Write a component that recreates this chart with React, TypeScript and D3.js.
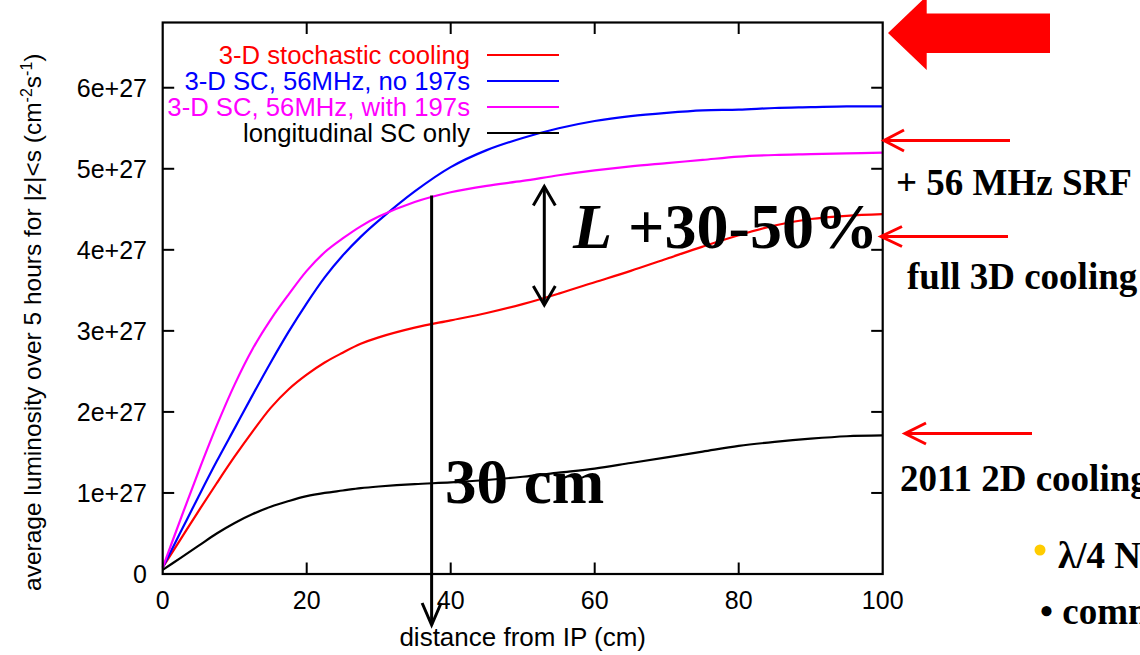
import React from 'react';
import * as d3 from 'd3';

// distance from IP (cm)
const distances = [0, 2.5, 5, 7.5, 10, 12.5, 15, 17.5, 20, 22.5, 25, 27.5, 30, 35, 40, 45, 50, 55, 60, 65, 70, 75, 80, 85, 90, 95, 100];
// average luminosity (units of 1e27 cm^-2 s^-1)
const stochastic3D = [0.08, 0.43, 0.78, 1.12, 1.45, 1.76, 2.05, 2.28, 2.46, 2.61, 2.73, 2.84, 2.92, 3.04, 3.13, 3.22, 3.33, 3.46, 3.6, 3.74, 3.89, 4.04, 4.18, 4.3, 4.38, 4.42, 4.44];
const sc56NoGold = [0.08, 0.52, 0.96, 1.39, 1.8, 2.21, 2.61, 2.99, 3.34, 3.66, 3.93, 4.16, 4.36, 4.72, 5.02, 5.23, 5.38, 5.5, 5.59, 5.65, 5.69, 5.72, 5.73, 5.75, 5.76, 5.77, 5.77];
const sc56WithGold = [0.08, 0.68, 1.27, 1.83, 2.34, 2.78, 3.14, 3.45, 3.74, 3.97, 4.14, 4.29, 4.41, 4.59, 4.71, 4.79, 4.85, 4.92, 4.98, 5.03, 5.07, 5.11, 5.15, 5.17, 5.18, 5.19, 5.2];
const longitudinalOnly = [0.05, 0.2, 0.35, 0.5, 0.63, 0.74, 0.83, 0.9, 0.96, 1.0, 1.03, 1.06, 1.08, 1.11, 1.13, 1.16, 1.2, 1.25, 1.3, 1.37, 1.44, 1.51, 1.58, 1.63, 1.67, 1.7, 1.71];

const seriesNames = ['3-D stochastic cooling', '3-D SC, 56MHz, no 197s', '3-D SC, 56MHz, with 197s', 'longitudinal SC only'];
const seriesValues = [stochastic3D, sc56NoGold, sc56WithGold, longitudinalOnly];
const seriesColors = ['#ff0000', '#0000ff', '#ff00ff', '#000000'];

const xTickValues = [0, 20, 40, 60, 80, 100];
const yTickValues = [0, 1, 2, 3, 4, 5, 6];
const yTickLabels = ['0', '1e+27', '2e+27', '3e+27', '4e+27', '5e+27', '6e+27'];

const SANS = '"Liberation Sans", Arial, Helvetica, sans-serif';
const SERIF = '"Liberation Serif", "Times New Roman", serif';

const W = 1140;
const H = 655;
const PL = 162.7, PR = 882.7, PT = 22.5, PB = 574;

function vHead(x: number, y: number, dir: number, len: number, half: number) {
  return `M${x - half},${y - dir * len}L${x},${y}L${x + half},${y - dir * len}`;
}
function hHeadLeft(x: number, y: number, len: number, half: number) {
  return `M${x + len},${y - half}L${x},${y}L${x + len},${y + half}`;
}

export default function App() {
  const x = d3.scaleLinear().domain([0, 100]).range([PL, PR]);
  const y = d3.scaleLinear().domain([0, 6.8]).range([PB, PT + 0.4]);
  const line = d3
    .line<number>()
    .x((_, i) => x(distances[i]))
    .y((d) => y(d))
    .curve(d3.curveCatmullRom.alpha(0.5));

  const legendRows = [55, 81, 107, 133];
  const tickLen = 11.5;

  const vx = x(37.35);
  const vTop = y(4.67);
  const vBot = 625;
  const dx = x(53);
  const dTop = y(4.78);
  const dBot = y(3.32);

  return (
    <svg width={W} height={H} style={{ position: 'absolute', left: 0, top: 0, display: 'block', background: '#fff' }}>
      <rect x={0} y={0} width={W} height={H} fill="#fff" />
      <g stroke="#000" strokeWidth={2}>
        {yTickValues.slice(1).map((v) => (
          <g key={'yt' + v}>
            <line x1={PL} x2={PL + tickLen} y1={y(v)} y2={y(v)} />
            <line x1={PR} x2={PR - tickLen} y1={y(v)} y2={y(v)} />
          </g>
        ))}
        {xTickValues.slice(1, -1).map((v) => (
          <g key={'xt' + v}>
            <line x1={x(v)} x2={x(v)} y1={PB} y2={PB - tickLen} />
            <line x1={x(v)} x2={x(v)} y1={PT} y2={PT + tickLen} />
          </g>
        ))}
      </g>
      <g fontFamily={SANS} fontSize={25} fill="#000">
        {yTickValues.map((v, i) => (
          <text key={'yl' + v} x={147} y={y(v)} dy="0.36em" textAnchor="end">
            {yTickLabels[i]}
          </text>
        ))}
        {xTickValues.map((v) => (
          <text key={'xl' + v} x={x(v)} y={609} textAnchor="middle">
            {v}
          </text>
        ))}
        <text x={(PL + PR) / 2} y={646} textAnchor="middle" fontSize={26}>distance from IP (cm)</text>
        <text transform={`translate(41,591) rotate(-90)`} textAnchor="start" fontSize={24.5}>
          average luminosity over 5 hours for |z|&lt;s (cm
          <tspan fontSize={16} dy={-9}>-2</tspan>
          <tspan dy={9}>s</tspan>
          <tspan fontSize={16} dy={-9}>-1</tspan>
          <tspan dy={9}>)</tspan>
        </text>
      </g>
      {seriesValues.map((vals, i) => (
        <path key={'s' + i} d={line(vals) || ''} fill="none" stroke={seriesColors[i]} strokeWidth={2.2} />
      ))}
      <g fontFamily={SANS} fontSize={25.7}>
        {seriesNames.map((name, i) => (
          <g key={'lg' + i}>
            <text x={470} y={legendRows[i]} dy="0.36em" textAnchor="end" fill={seriesColors[i]}>
              {name}
            </text>
            <line x1={487} x2={559} y1={legendRows[i]} y2={legendRows[i]} stroke={seriesColors[i]} strokeWidth={2.2} />
          </g>
        ))}
      </g>
      <rect x={PL} y={PT} width={PR - PL} height={PB - PT} fill="none" stroke="#000" strokeWidth={2.2} />

      <g stroke="#000" strokeWidth={3} fill="none">
        <line x1={vx} x2={vx} y1={vTop} y2={vBot} />
        <path d={vHead(vx, vBot, 1, 22, 9.5)} />
        <line x1={dx} x2={dx} y1={dTop} y2={dBot} />
        <path d={vHead(dx, dTop, -1, 19, 11)} />
        <path d={vHead(dx, dBot, 1, 19, 11)} />
      </g>
      <text x={573} y={248} fontFamily={SERIF} fontWeight="bold" fontSize={64} fill="#000">
        <tspan fontStyle="italic">L</tspan> +30-50%
      </text>
      <text x={445} y={503} fontFamily={SERIF} fontWeight="bold" fontSize={63} fill="#000">
        30 cm
      </text>

      <polygon points="888,33 926.7,-4 926.7,13.5 1050,13.5 1050,53 926.7,53 926.7,70" fill="#ff0000" />
      <g stroke="#ff0000" strokeWidth={3} fill="none">
        <line x1={884} x2={1010} y1={140.5} y2={140.5} />
        <path d={hHeadLeft(884, 140.5, 20, 10.5)} />
        <line x1={881} x2={1008} y1={236.5} y2={236.5} />
        <path d={hHeadLeft(881, 236.5, 21, 10)} />
        <line x1={905} x2={1032} y1={433.5} y2={433.5} />
        <path d={hHeadLeft(905, 433.5, 21, 10.5)} />
      </g>
      <g fontFamily={SERIF} fontWeight="bold" fontSize={37} fill="#000">
        <text x={896} y={195}>+ 56 MHz SRF</text>
        <text x={907} y={289}>full 3D cooling</text>
        <text x={900} y={491}>2011 2D cooling</text>
        <text x={1058} y={568}>λ/4 N</text>
        <text x={1040} y={624}>• comm</text>
      </g>
      <circle cx={1040} cy={550} r={5.5} fill="#ffcc00" />
    </svg>
  );
}
